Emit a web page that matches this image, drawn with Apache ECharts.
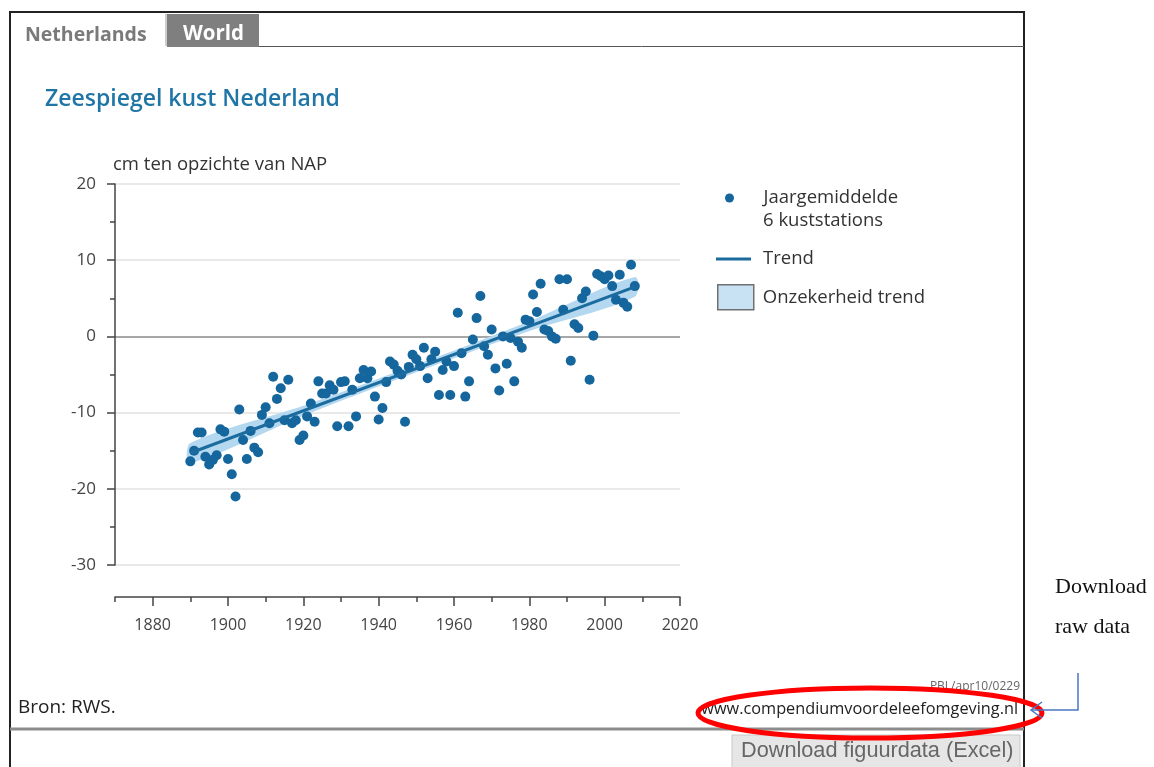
<!DOCTYPE html>
<html>
<head>
<meta charset="utf-8">
<title>Zeespiegel kust Nederland</title>
<script src="https://cdn.jsdelivr.net/npm/echarts@6/dist/echarts.min.js"></script>
<style>
  html, body { margin: 0; padding: 0; background: #fff; }
  #main { width: 1154px; height: 767px; }
</style>
</head>
<body>
<div id="main"></div>
<script>
// jaargemiddelde zeespiegel, 6 kuststations (cm t.o.v. NAP)
var years = [
  1890, 1891, 1892, 1893, 1894, 1895, 1896, 1897, 1898, 1899,
  1900, 1901, 1902, 1903, 1904, 1905, 1906, 1907, 1908, 1909,
  1910, 1911, 1912, 1913, 1914, 1915, 1916, 1917, 1918, 1919,
  1920, 1921, 1922, 1923, 1924, 1925, 1926, 1927, 1928, 1929,
  1930, 1931, 1932, 1933, 1934, 1935, 1936, 1937, 1938, 1939,
  1940, 1941, 1942, 1943, 1944, 1945, 1946, 1947, 1948, 1949,
  1950, 1951, 1952, 1953, 1954, 1955, 1956, 1957, 1958, 1959,
  1960, 1961, 1962, 1963, 1964, 1965, 1966, 1967, 1968, 1969,
  1970, 1971, 1972, 1973, 1974, 1975, 1976, 1977, 1978, 1979,
  1980, 1981, 1982, 1983, 1984, 1985, 1986, 1987, 1988, 1989,
  1990, 1991, 1992, 1993, 1994, 1995, 1996, 1997, 1998, 1999,
  2000, 2001, 2002, 2003, 2004, 2005, 2006, 2007, 2008
];
var seaLevel = [
  -16.4, -15.0, -12.6, -12.6, -15.8, -16.8, -16.2, -15.6, -12.2, -12.5,
  -16.1, -18.1, -21.0, -9.6, -13.6, -16.1, -12.4, -14.6, -15.2, -10.3,
  -9.3, -11.4, -5.3, -8.2, -6.8, -11.0, -5.7, -11.4, -11.0, -13.6,
  -13.0, -10.5, -8.8, -11.2, -5.9, -7.5, -7.5, -6.4, -7.0, -11.8,
  -6.0, -5.9, -11.8, -7.0, -10.5, -5.5, -4.4, -5.5, -4.6, -7.9,
  -10.9, -9.4, -6.0, -3.3, -3.7, -4.5, -5.0, -11.2, -4.0, -2.4,
  -3.0, -3.9, -1.5, -5.5, -3.0, -2.0, -7.7, -4.4, -3.3, -7.7,
  -3.9, 3.1, -2.2, -7.9, -5.9, -0.4, 2.4, 5.3, -1.3, -2.4,
  0.9, -4.2, -7.1, 0.0, -3.6, -0.2, -5.9, -0.7, -1.5, 2.2,
  2.0, 5.5, 3.2, 6.9, 0.9, 0.7, 0.0, -0.3, 7.5, 3.5,
  7.5, -3.2, 1.6, 1.1, 5.0, 5.9, -5.7, 0.1, 8.2, 7.9,
  7.5, 8.0, 6.6, 4.8, 8.1, 4.4, 3.9, 9.4, 6.6
];

// trend en onzekerheidsband
var trendYears = [1890, 2008];
var trendValues = [-15.3, 6.5];
var bandYears = [1890, 1920, 1950, 1980, 2008];
var bandLow = [-16.6, -10.4, -4.7, 0.7, 5.2];
var bandHigh = [-14.0, -9.1, -3.7, 2.0, 7.8];

// as-labels
var xLabelYears = [1880, 1900, 1920, 1940, 1960, 1980, 2000, 2020];
var xMinorYears = [1870, 1890, 1910, 1930, 1950, 1970, 1990, 2010];

var FONT = 'Open Sans';
var BLUE = '#14669d';

var chart = echarts.init(document.getElementById('main'));

// band als één polygoon via de assen van de grafiek
function renderBand(params, api) {
  if (params.dataIndex !== 0) return null;
  var pts = [];
  for (var i = 0; i < bandYears.length; i++) {
    pts.push(api.coord([bandYears[i], bandHigh[i]]));
  }
  for (var j = bandYears.length - 1; j >= 0; j--) {
    pts.push(api.coord([bandYears[j], bandLow[j]]));
  }
  return {
    type: 'polygon',
    shape: { points: pts, smooth: 0.3 },
    style: { fill: '#b4d8f0', stroke: 'none' }
  };
}

chart.setOption({
  animation: false,
  textStyle: { fontFamily: FONT },
  grid: { left: 115, top: 184, width: 565, height: 381 },
  legend: [
    {
      left: 720, top: 183,
      data: [{ name: 'Jaargemiddelde 6 kuststations', icon: 'circle' }],
      itemWidth: 48, itemHeight: 9,
      selectedMode: false,
      formatter: function () { return 'Jaargemiddelde'; },
      textStyle: { fontFamily: FONT, fontSize: 18.5, color: '#333', lineHeight: 20, padding: [0, 0, 0, 5] }
    },
    {
      left: 711, top: 244,
      data: [{ name: 'Trend', icon: 'rect' }],
      itemWidth: 35, itemHeight: 3,
      selectedMode: false,
      textStyle: { fontFamily: FONT, fontSize: 18.5, color: '#333', lineHeight: 20, padding: [0, 0, 0, 7] }
    },
    {
      left: 712, top: 279,
      data: [{
        name: 'Onzekerheid trend', icon: 'rect',
        itemStyle: { color: '#c8e1f3', borderColor: '#707070', borderWidth: 1.5 }
      }],
      itemWidth: 36, itemHeight: 25,
      selectedMode: false,
      textStyle: { fontFamily: FONT, fontSize: 18.5, color: '#333', lineHeight: 20, padding: [0, 0, 0, 4] }
    }
  ],
  xAxis: [
    {
      type: 'value', min: 1870, max: 2020, offset: 32, position: 'bottom',
      axisLine: { show: true, onZero: false, lineStyle: { color: '#444', width: 1.5 } },
      axisTick: { show: true, customValues: xLabelYears, length: 9, lineStyle: { color: '#444', width: 1.5 } },
      axisLabel: {
        customValues: xLabelYears, margin: 20, fontSize: 16, color: '#444', fontFamily: FONT,
        formatter: function (v) { return String(v); }
      },
      splitLine: { show: false }
    },
    {
      type: 'value', min: 1870, max: 2020, offset: 32, position: 'bottom',
      axisLine: { show: false, onZero: false },
      axisTick: { show: true, customValues: xMinorYears, length: 5, lineStyle: { color: '#444', width: 1.5 } },
      axisLabel: { show: false },
      splitLine: { show: false }
    }
  ],
  yAxis: {
    type: 'value', min: -30, max: 20, interval: 10,
    name: 'cm ten opzichte van NAP',
    nameLocation: 'end',
    nameGap: 10,
    nameTextStyle: { align: 'left', fontSize: 18.5, color: '#333', fontFamily: FONT, padding: [0, 0, 0, -2] },
    axisLine: { show: true, lineStyle: { color: '#444', width: 1.5 } },
    axisTick: { show: true, length: 8, lineStyle: { color: '#444', width: 1.5 } },
    minorTick: { show: true, splitNumber: 2, length: 5, lineStyle: { color: '#444', width: 1.5 } },
    axisLabel: { margin: 19, fontSize: 17, color: '#444', fontFamily: FONT },
    splitLine: {
      show: true,
      lineStyle: { color: ['#e2e2e2', '#e2e2e2', '#e2e2e2', '#8a8a8a', '#e2e2e2', '#e2e2e2'], width: 1.5 }
    }
  },
  series: [
    {
      name: 'Onzekerheid trend',
      type: 'custom',
      silent: true,
      color: '#c8e1f3',
      renderItem: renderBand,
      encode: { x: 0, y: [1, 2] },
      data: bandYears.map(function (y, i) { return [y, bandLow[i], bandHigh[i]]; }),
      z: 1
    },
    {
      name: 'Jaargemiddelde 6 kuststations',
      type: 'scatter',
      symbolSize: 10,
      itemStyle: { color: BLUE, opacity: 1 },
      data: years.map(function (y, i) { return [y, seaLevel[i]]; }),
      z: 2
    },
    {
      name: 'Trend',
      type: 'line',
      symbol: 'none',
      color: '#1b6b9f',
      lineStyle: { color: '#1b6b9f', width: 3 },
      data: trendYears.map(function (y, i) { return [y, trendValues[i]]; }),
      z: 3
    }
  ],
  graphic: [
    // kader
    { type: 'rect', shape: { x: 10, y: 12, width: 1014, height: 770 }, style: { fill: 'none', stroke: '#222', lineWidth: 2 }, z: 0 },
    // tabs
    { type: 'line', shape: { x1: 166, y1: 14, x2: 166, y2: 46 }, style: { stroke: '#999', lineWidth: 1 } },
    { type: 'rect', shape: { x: 167, y: 14, width: 92, height: 33 }, style: { fill: '#7f7f7f' } },
    { type: 'line', shape: { x1: 259, y1: 46.5, x2: 1024, y2: 46.5 }, style: { stroke: '#555', lineWidth: 1 } },
    { type: 'text', left: 25, top: 25, style: { text: 'Netherlands', font: 'bold 19.5px "Open Sans"', fill: '#7a7a7a' } },
    { type: 'text', left: 183, top: 24, style: { text: 'World', font: 'bold 20.5px "Open Sans"', fill: '#fff' } },
    // titel
    { type: 'text', left: 45, top: 88, style: { text: 'Zeespiegel kust Nederland', font: '600 23px "Open Sans"', fill: '#1f76a6' } },
    // voet
    { type: 'text', right: 134, top: 681, style: { text: 'PBL/apr10/0229', font: '12px "Open Sans"', fill: '#666' } },
    { type: 'text', left: 18, top: 698, style: { text: 'Bron: RWS.', font: '19px "Open Sans"', fill: '#222' } },
    { type: 'text', right: 136, top: 701, style: { text: 'www.compendiumvoordeleefomgeving.nl', font: '16.3px "Open Sans"', fill: '#222' } },
    { type: 'line', shape: { x1: 10, y1: 729, x2: 1024, y2: 729 }, style: { stroke: '#8c8c8c', lineWidth: 3 } },
    { type: 'rect', shape: { x: 732, y: 735, width: 288, height: 40 }, style: { fill: '#e6e6e6', stroke: '#c8c8c8', lineWidth: 1 } },
    { type: 'text', left: 741, top: 740, style: { text: 'Download figuurdata (Excel)', font: '21.7px "Liberation Sans"', fill: '#666' } },
    // annotatie
    { type: 'ellipse', shape: { cx: 870, cy: 713, rx: 172, ry: 25 }, style: { fill: 'none', stroke: '#ff0000', lineWidth: 5 }, z: 10 },
    { type: 'polyline', shape: { points: [[1078, 673], [1078, 710], [1032, 710]] }, style: { fill: 'none', stroke: '#4a78c2', lineWidth: 1.5 }, z: 10 },
    { type: 'polyline', shape: { points: [[1042, 702], [1031, 710], [1042, 718]] }, style: { fill: 'none', stroke: '#4a78c2', lineWidth: 1.5 }, z: 10 },
    { type: 'text', left: 1055, top: 576, style: { text: 'Download', font: '22px "Liberation Serif"', fill: '#111' } },
    { type: 'text', left: 1055, top: 616, style: { text: 'raw data', font: '22px "Liberation Serif"', fill: '#111' } },
    // tweede legendaregel
    { type: 'text', left: 763, top: 211, style: { text: '6 kuststations', font: '18.5px "Open Sans"', fill: '#333' } }
  ]
});
</script>
</body>
</html>
